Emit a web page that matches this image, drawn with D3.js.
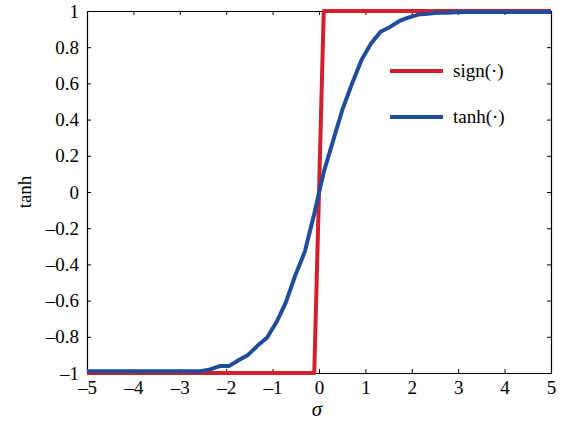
<!DOCTYPE html>
<html>
<head>
<meta charset="utf-8">
<script src="https://cdn.jsdelivr.net/npm/d3@7/dist/d3.min.js"></script>
<style>
html,body{margin:0;padding:0;background:#fff;}
svg{display:block;}
text{font-family:"Liberation Serif","Times New Roman",serif;fill:#000;}
</style>
</head>
<body>
<svg id="chart" width="568" height="421"></svg>
<script>
// x samples (sigma)
const sigma = [-5.000,-4.796,-4.592,-4.388,-4.184,-3.980,-3.776,-3.571,-3.367,-3.163,
  -2.959,-2.755,-2.551,-2.347,-2.143,-1.939,-1.735,-1.531,-1.327,-1.122,
  -0.918,-0.714,-0.510,-0.306,-0.102,0.102,0.306,0.510,0.714,0.918,
  1.122,1.327,1.531,1.735,1.939,2.143,2.347,2.551,2.755,2.959,
  3.163,3.367,3.571,3.776,3.980,4.184,4.388,4.592,4.796,5.000];
// sign(·) series
const signValues = [-1,-1,-1,-1,-1,-1,-1,-1,-1,-1,
  -1,-1,-1,-1,-1,-1,-1,-1,-1,-1,
  -1,-1,-1,-1,-1,1,1,1,1,1,
  1,1,1,1,1,1,1,1,1,1,
  1,1,1,1,1,1,1,1,1,1];
// tanh(·) series
const tanhValues = [-0.99,-0.99,-0.99,-0.99,-0.99,-0.99,-0.99,-0.99,-0.99,-0.99,
  -0.99,-0.99,-0.99,-0.98,-0.962,-0.962,-0.93,-0.90,-0.85,-0.805,
  -0.72,-0.61,-0.46,-0.33,-0.12,0.11,0.285,0.46,0.60,0.73,
  0.82,0.885,0.912,0.945,0.965,0.98,0.985,0.99,0.99,0.993,
  0.995,0.995,0.995,0.995,0.995,0.995,0.995,0.995,0.995,0.995];
const xTicks = [-5,-4,-3,-2,-1,0,1,2,3,4,5];
const yTicks = [-1,-0.8,-0.6,-0.4,-0.2,0,0.2,0.4,0.6,0.8,1];
const seriesNames = ["sign(\u00b7)","tanh(\u00b7)"];
const seriesColors = ["#d3202f","#204d9b"];

const svg = d3.select("#chart");
const L = 87, R = 551, T = 11, B = 373;
const x = d3.scaleLinear().domain([-5,5]).range([L,R]);
const y = d3.scaleLinear().domain([-1,1]).range([B,T]);

const fmt = d => {
  const s = (Math.abs(d) < 1e-9) ? "0" : String(+d.toFixed(1));
  return s.replace("-","\u2013");
};

// axes with inward ticks
const gB = svg.append("g").attr("transform",`translate(0,${B})`)
  .call(d3.axisBottom(x).tickValues(xTicks).tickSizeInner(-4).tickSizeOuter(0).tickPadding(10).tickFormat(fmt));
const gT = svg.append("g").attr("transform",`translate(0,${T})`)
  .call(d3.axisTop(x).tickValues(xTicks).tickSizeInner(-4).tickSizeOuter(0).tickFormat(""));
const gL = svg.append("g").attr("transform",`translate(${L},0)`)
  .call(d3.axisLeft(y).tickValues(yTicks).tickSizeInner(-4).tickSizeOuter(0).tickPadding(8).tickFormat(fmt));
const gR = svg.append("g").attr("transform",`translate(${R},0)`)
  .call(d3.axisRight(y).tickValues(yTicks).tickSizeInner(-4).tickSizeOuter(0).tickFormat(""));
[gB,gT,gL,gR].forEach(g=>{
  g.attr("font-family",null);
  g.select(".domain").attr("stroke","#000").attr("stroke-width",1.2);
  g.selectAll(".tick line").attr("stroke","#000");
  g.selectAll("text").attr("font-family","Liberation Serif").attr("font-size",19).attr("fill","#000");
});
gB.selectAll("text").attr("dy","0.71em").attr("y",8);

// lines
const line = d3.line().x(d=>x(d[0])).y(d=>y(d[1]));
const seriesData = [signValues, tanhValues];
seriesData.forEach((vals,i)=>{
  svg.append("path")
    .datum(sigma.map((s,j)=>[s,vals[j]]))
    .attr("fill","none")
    .attr("stroke",seriesColors[i])
    .attr("stroke-width",4)
    .attr("stroke-linejoin","round")
    .attr("d",line);
});

// legend
const legY = [71,117];
seriesNames.forEach((n,i)=>{
  svg.append("line").attr("x1",390).attr("x2",443).attr("y1",legY[i]).attr("y2",legY[i])
    .attr("stroke",seriesColors[i]).attr("stroke-width",4);
  svg.append("text").attr("x",453).attr("y",legY[i]+6).attr("font-size",19).text(n);
});

// axis labels
svg.append("text").attr("transform","translate(31,192) rotate(-90)")
  .attr("text-anchor","middle").attr("font-size",19).text("tanh");
svg.append("text").attr("x",317).attr("y",416).attr("text-anchor","middle")
  .attr("font-size",21).attr("font-style","italic").text("\u03c3");
</script>
</body>
</html>
